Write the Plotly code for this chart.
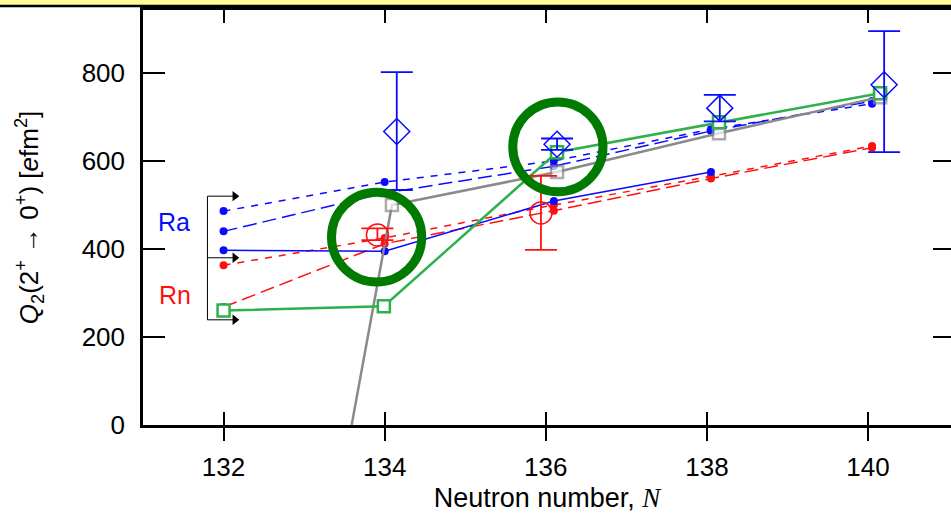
import plotly.graph_objects as go

# ---------------- data ----------------
x_ticks = [132, 134, 136, 138, 140]
y_ticks = [0, 200, 400, 600, 800]

# theory (Ra) dashed / solid lines with dots
ra_x = [132, 134, 136.1, 138.05, 140.05]
ra_short_dash = [486, 552, 600, 672, 730]
ra_long_dash = [440, 527, 588, 668, 736]
ra_solid_x = [132, 134, 136.1, 138.05]
ra_solid = [397, 395, 509, 575]

# theory (Rn) dashed lines with dots
rn_x = [132, 134, 136.1, 138.05, 140.05]
rn_short_dash = [363, 425, 500, 565, 634]
rn_long_dash = [268, 412, 487, 560, 630]

# open-square curves
green_x = [132, 133.99, 136.14, 138.15, 140.15]
green_q = [260, 270, 620, 688, 754]
gray_x = [133.59, 134.09, 136.14, 138.15, 140.15]
gray_q = [0, 500, 575, 663, 745]

# experiment Ra (diamonds)
ra_exp_x = [134.15, 136.14, 138.16, 140.2]
ra_exp_q = [667, 638, 720, 773]
ra_exp_up = [135, 13, 30, 122]
ra_exp_dn = [133, 13, 30, 153]

# experiment Rn (circles)
rn_exp_x = [133.91, 135.94]
rn_exp_q = [432, 482]
rn_exp_up = [15, 84]
rn_exp_dn = [12, 84]

# highlight rings (centre N, centre Q)
ring_n = [133.9, 136.15]
ring_q = [427, 632]

# bracket arrows on the left (Q levels)
bracket_q = [520, 380, 239]
bracket_n0, bracket_n1 = 131.8, 132.2

BLUE = "#0a0aff"
RED = "#ff1010"
GREEN = "#2eb04a"
GRAY = "#8a8a8a"
RING = "#007a00"

fig = go.Figure()

def dots_line(x, y, color, dash, width=1.5):
    fig.add_trace(go.Scatter(
        x=x, y=y, mode="lines+markers",
        line=dict(color=color, width=width, dash=dash),
        marker=dict(color=color, size=8),
        showlegend=False, hoverinfo="skip"))

# bracket arrowheads (triangles just before the tips)
head_n = bracket_n1 - 0.06
fig.add_trace(go.Scatter(
    x=[head_n] * len(bracket_q), y=bracket_q, mode="markers",
    marker=dict(symbol="triangle-right", size=9, color="black", line=dict(width=0)),
    showlegend=False, hoverinfo="skip"))

dots_line(rn_x, rn_long_dash, RED, "14px,6px")
dots_line(rn_x, rn_short_dash, RED, "7px,7px")
dots_line(ra_solid_x, ra_solid, BLUE, "solid", 1.5)
dots_line(ra_x, ra_long_dash, BLUE, "14px,6px")
dots_line(ra_x, ra_short_dash, BLUE, "7px,7px")

# gray squares curve
fig.add_trace(go.Scatter(
    x=gray_x, y=gray_q, mode="lines+markers",
    line=dict(color=GRAY, width=2.5),
    marker=dict(symbol="square", size=[0, 12, 12, 12, 12], color="white",
                line=dict(color=GRAY, width=2.5)),
    showlegend=False, hoverinfo="skip"))

# green squares curve
fig.add_trace(go.Scatter(
    x=green_x, y=green_q, mode="lines+markers",
    line=dict(color=GREEN, width=2.5),
    marker=dict(symbol="square", size=12, color="white",
                line=dict(color=GREEN, width=2.5)),
    showlegend=False, hoverinfo="skip"))

# experimental Rn
fig.add_trace(go.Scatter(
    x=rn_exp_x, y=rn_exp_q, mode="markers",
    marker=dict(symbol="circle-open", size=22, color=RED, line=dict(width=1.5)),
    error_y=dict(type="data", symmetric=False, array=rn_exp_up, arrayminus=rn_exp_dn,
                 color=RED, thickness=1.8, width=16),
    showlegend=False, hoverinfo="skip"))

# experimental Ra
fig.add_trace(go.Scatter(
    x=ra_exp_x, y=ra_exp_q, mode="markers",
    marker=dict(symbol="diamond-open", size=20, color=BLUE, line=dict(width=1.5)),
    error_y=dict(type="data", symmetric=False, array=ra_exp_up, arrayminus=ra_exp_dn,
                 color=BLUE, thickness=1.8, width=16),
    showlegend=False, hoverinfo="skip"))

# dummy trace to activate the overlay axes
fig.add_trace(go.Scatter(x=[x_ticks[0]], y=[y_ticks[0]], xaxis="x2", yaxis="y2",
                         mode="markers", marker=dict(opacity=0), showlegend=False,
                         hoverinfo="skip"))

shapes = []
# highlight rings
rx, ry = 0.56, 102
for n, q in zip(ring_n, ring_q):
    shapes.append(dict(type="circle", xref="x", yref="y",
                       x0=n - rx, x1=n + rx, y0=q - ry, y1=q + ry,
                       line=dict(color=RING, width=9), layer="above"))
# bracket lines
shapes.append(dict(type="line", xref="x", yref="y", x0=bracket_n0, x1=bracket_n0,
                   y0=min(bracket_q), y1=max(bracket_q),
                   line=dict(color="black", width=1)))
for q in bracket_q:
    shapes.append(dict(type="line", xref="x", yref="y", x0=bracket_n0, x1=head_n,
                       y0=q, y1=q, line=dict(color="black", width=1)))
# yellow banner + black rule at top
shapes.append(dict(type="rect", xref="paper", yref="paper", x0=-0.2, x1=1.01,
                   y0=1 + 5 / 415, y1=1 + 11 / 415, fillcolor="#fdfb9a",
                   line=dict(width=0), layer="below"))
shapes.append(dict(type="line", xref="paper", yref="paper", x0=-0.2, x1=1.01,
                   y0=1 + 4 / 415, y1=1 + 4 / 415, line=dict(color="black", width=2.5)))

annotations = [
    dict(x=131.39, y=461, xref="x", yref="y", text="Ra", showarrow=False,
         font=dict(color=BLUE, size=25, family="Liberation Sans")),
    dict(x=131.4, y=295, xref="x", yref="y", text="Rn", showarrow=False,
         font=dict(color=RED, size=25, family="Liberation Sans")),
]

FONT = "Liberation Sans"
fig.update_layout(
    width=951, height=513,
    margin=dict(l=143, r=0, t=10, b=88, pad=0),
    paper_bgcolor="white", plot_bgcolor="white",
    font=dict(family=FONT, color="black", size=26),
    shapes=shapes, annotations=annotations,
    xaxis=dict(range=[131.0, 141.03], tickvals=x_ticks, ticks="outside", ticklen=13,
               tickwidth=2, tickcolor="black", showline=True, linewidth=3,
               linecolor="black", mirror=True, showgrid=False, zeroline=False,
               tickfont=dict(size=26), ticklabelstandoff=4,
               title=dict(text="Neutron number, <i style='font-family:Liberation Serif'>N</i>",
                          font=dict(size=27), standoff=8)),
    xaxis2=dict(overlaying="x", matches="x", tickvals=x_ticks, ticks="inside",
                ticklen=13, tickwidth=2, tickcolor="black", mirror="ticks",
                showline=False, showticklabels=False, showgrid=False, zeroline=False),
    yaxis=dict(range=[0, 943], tickvals=y_ticks, ticks="inside", ticklen=22, tickwidth=2,
               tickcolor="black", showline=True, linewidth=2.5, linecolor="black",
               showgrid=False, zeroline=False, tickfont=dict(size=26),
               ticklabelstandoff=10,
               title=dict(text="<i>Q</i><sub>2</sub>(2<sup>+</sup> → 0<sup>+</sup>) [<i>e</i>fm<sup>2</sup>]",
                          font=dict(size=26), standoff=36)),
    yaxis2=dict(overlaying="y", matches="y", side="right", anchor="free", position=1,
                tickvals=y_ticks, ticks="inside", ticklen=18, tickwidth=2,
                tickcolor="black", showline=False, showticklabels=False,
                showgrid=False, zeroline=False),
)

fig.write_html("out.html")
